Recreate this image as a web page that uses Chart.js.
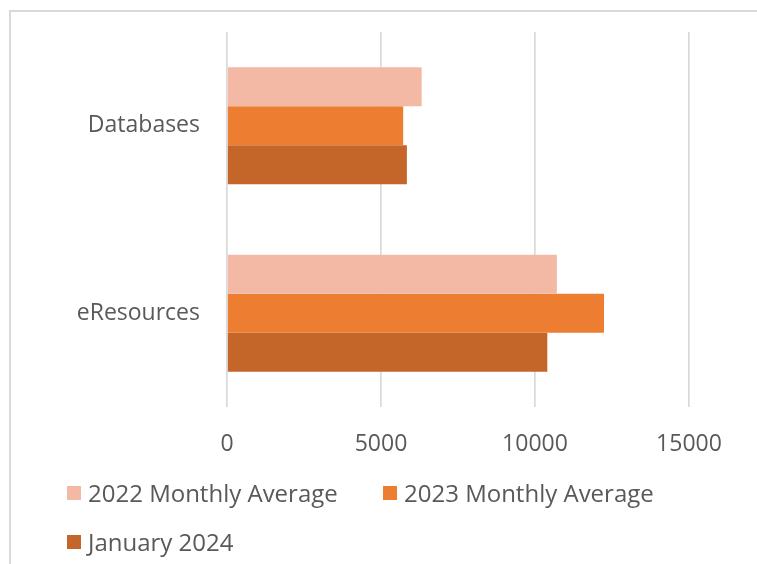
<!DOCTYPE html>
<html>
<head>
<meta charset="utf-8">
<script src="https://cdn.jsdelivr.net/npm/chart.js@4"></script>
<style>
  html, body { margin: 0; padding: 0; background: #fff; overflow: hidden; }
  #wrap { position: relative; width: 757px; height: 564px; }
  #frame {
    position: absolute; left: 9px; top: 10px; width: 1000px; height: 1000px;
    border: 2px solid #d9d9d9;
  }
  #myChart { position: absolute; left: 0; top: 0; }
  #legend {
    position: absolute; left: 67px; top: 468px;
    display: grid; grid-template-columns: 316px 316px; grid-auto-rows: 49px;
    font-family: "Open Sans", sans-serif; font-size: 24px; color: #595959;
  }
  #legend .item { display: flex; align-items: center; white-space: nowrap; }
  #legend .box { width: 14px; height: 14px; margin-right: 7px; flex: none; }
</style>
</head>
<body>
<div id="wrap">
  <div id="frame"></div>
  <canvas id="myChart" width="757" height="564"></canvas>
  <div id="legend"></div>
</div>
<script>
const categories = ['Databases', 'eResources'];
const seriesNames = ['2022 Monthly Average', '2023 Monthly Average', 'January 2024'];
const avg2022 = [6320, 10710];
const avg2023 = [5720, 12240];
const jan2024 = [5840, 10400];
const xTicks = [0, 5000, 10000, 15000];

const colors = ['#F4B9A4', '#ED7D31', '#C4652A'];
const textColor = '#595959';
const font = { family: '"Open Sans", sans-serif', size: 23 };

// html legend built from the chart's own legend items
const htmlLegend = {
  id: 'htmlLegend',
  afterUpdate(chart) {
    const box = document.getElementById('legend');
    box.innerHTML = '';
    const items = chart.options.plugins.legend.labels.generateLabels(chart);
    items.forEach(item => {
      const div = document.createElement('div');
      div.className = 'item';
      const sq = document.createElement('span');
      sq.className = 'box';
      sq.style.background = item.fillStyle;
      const txt = document.createElement('span');
      txt.textContent = item.text;
      div.appendChild(sq);
      div.appendChild(txt);
      box.appendChild(div);
    });
  }
};

const ctx = document.getElementById('myChart').getContext('2d');

const chart = new Chart(ctx, {
  type: 'bar',
  data: {
    labels: categories,
    datasets: [
      { label: seriesNames[0], data: avg2022, backgroundColor: colors[0] },
      { label: seriesNames[1], data: avg2023, backgroundColor: colors[1] },
      { label: seriesNames[2], data: jan2024, backgroundColor: colors[2] }
    ]
  },
  options: {
    indexAxis: 'y',
    responsive: false,
    animation: false,
    datasets: {
      bar: { categoryPercentage: 0.624, barPercentage: 1.0 }
    },
    layout: {
      padding: { top: 32, right: 68, bottom: 105, left: 0 }
    },
    plugins: {
      legend: { display: false },
      tooltip: { enabled: false }
    },
    scales: {
      x: {
        min: 0,
        max: 15000,
        afterBuildTicks: axis => { axis.ticks = xTicks.map(v => ({ value: v })); },
        afterFit: axis => { axis.height = 52; },
        grid: { color: '#d9d9d9', lineWidth: 1.7, drawTicks: false },
        border: { display: false },
        ticks: {
          padding: 24,
          color: textColor,
          font: font,
          maxRotation: 0,
          callback: v => String(v)
        }
      },
      y: {
        afterFit: axis => {
          axis.width = 227;
          axis.paddingTop = 0;
          axis.paddingBottom = 0;
        },
        grid: { display: false, drawTicks: false },
        border: { display: false },
        ticks: { padding: 27, color: textColor, font: font }
      }
    }
  },
  plugins: [htmlLegend]
});
</script>
</body>
</html>
